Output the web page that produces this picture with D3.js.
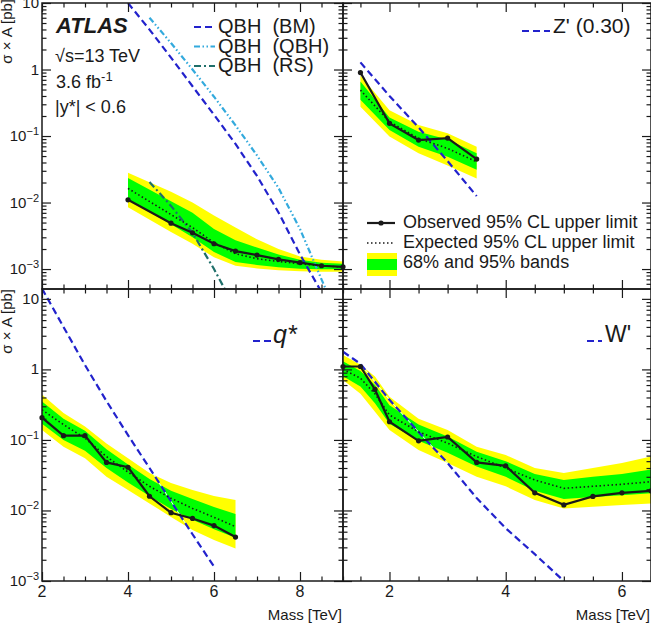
<!DOCTYPE html>
<html>
<head>
<meta charset="utf-8">
<script src="https://cdn.jsdelivr.net/npm/d3@7"></script>
<style>
    body { margin: 0; background: #fff; }
    svg { display: block; font-family: "Liberation Sans", Arial, Helvetica, sans-serif; }
</style>
</head>
<body>
<svg id="chart" width="651" height="627"></svg>
<script>
"use strict";

// ---- QBH panel (top left)
var qbhMass = [4, 5, 5.5, 6, 6.5, 7, 7.5, 8, 8.5, 9];
var qbhObserved = [0.011, 0.0049, 0.0035, 0.0024, 0.00186, 0.00162, 0.0014, 0.00125, 0.00112, 0.00108];
var qbhExpected = [0.0163, 0.0066, 0.0042, 0.0025, 0.0017, 0.00143, 0.0013, 0.0012, 0.00112, 0.00107];
var qbhBand95Hi = [0.028, 0.0145, 0.0100, 0.0064, 0.0042, 0.0028, 0.0020, 0.00155, 0.00138, 0.0013];
var qbhBand68Hi = [0.0233, 0.0105, 0.0070, 0.0040, 0.0027, 0.0021, 0.00165, 0.00138, 0.00124, 0.0012];
var qbhBand68Lo = [0.0110, 0.0047, 0.0030, 0.0018, 0.00128, 0.00115, 0.00106, 0.00101, 0.00099, 0.00099];
var qbhBand95Lo = [0.0085, 0.0036, 0.0024, 0.0015, 0.00112, 0.00102, 0.00096, 0.00093, 0.00091, 0.00091];

var bmMass = [4, 4.5, 5, 5.5, 6, 6.5, 7, 7.5, 8, 8.5];
var bmTheory = [10, 3.98, 1.51, 0.56, 0.209, 0.076, 0.0251, 0.0071, 0.00166, 0.00045];
var qbhQbhMass = [4.5, 5, 5.5, 6, 6.5, 7, 7.5, 8, 8.5, 9];
var qbhQbhTheory = [6.0, 2.5, 1.0, 0.39, 0.145, 0.051, 0.0166, 0.004, 0.0007, 0.000126];
var rsMass = [4.5, 5, 5.5, 6, 6.5];
var rsTheory = [0.0204, 0.0089, 0.0035, 0.001, 0.00025];

// ---- Z' panel (top right)
var zpMass = [1.5, 2, 2.5, 3, 3.5];
var zpObserved = [0.90, 0.155, 0.087, 0.093, 0.045];
var zpExpected = [0.49, 0.164, 0.092, 0.065, 0.041];
var zpBand95Hi = [0.81, 0.245, 0.147, 0.11, 0.069];
var zpBand68Hi = [0.66, 0.19, 0.116, 0.089, 0.055];
var zpBand68Lo = [0.35, 0.123, 0.069, 0.049, 0.031];
var zpBand95Lo = [0.275, 0.098, 0.055, 0.036, 0.023];
var zpTheory = [1.28, 0.40, 0.135, 0.042, 0.0125];

// ---- q* panel (bottom left)
var qsMass = [2, 2.5, 3, 3.5, 4, 4.5, 5, 5.5, 6, 6.5];
var qsObserved = [0.207, 0.115, 0.115, 0.048, 0.041, 0.0159, 0.0093, 0.0077, 0.0061, 0.0042];
var qsExpected = [0.267, 0.165, 0.106, 0.058, 0.035, 0.022, 0.0149, 0.0107, 0.0080, 0.0059];
var qsBand95Hi = [0.44, 0.24, 0.155, 0.089, 0.055, 0.034, 0.0245, 0.0195, 0.016, 0.0141];
var qsBand68Hi = [0.35, 0.20, 0.135, 0.074, 0.045, 0.028, 0.019, 0.0145, 0.0112, 0.0089];
var qsBand68Lo = [0.17, 0.10, 0.07, 0.040, 0.025, 0.016, 0.0105, 0.0074, 0.0054, 0.0041];
var qsBand95Lo = [0.138, 0.080, 0.055, 0.030, 0.0195, 0.0126, 0.0081, 0.0053, 0.0038, 0.0029];
var qsTheoryMass = [2, 2.5, 3, 3.5, 4, 4.5, 5, 5.5, 6];
var qsTheory = [14, 4.0, 1.15, 0.355, 0.117, 0.040, 0.0135, 0.0046, 0.0016];

// ---- W' panel (bottom right)
var wpMass = [1.2, 1.5, 1.75, 2, 2.5, 3, 3.5, 4, 4.5, 5, 5.5, 6, 6.5];
var wpObserved = [1.10, 1.10, 0.52, 0.181, 0.097, 0.110, 0.048, 0.043, 0.0178, 0.0120, 0.0158, 0.0178, 0.0190];
var wpExpected = [1.0, 0.75, 0.45, 0.226, 0.13, 0.090, 0.058, 0.040, 0.027, 0.0206, 0.022, 0.0235, 0.0256];
var wpBand95Hi = [1.6, 1.16, 0.79, 0.41, 0.20, 0.138, 0.080, 0.061, 0.040, 0.034, 0.040, 0.047, 0.058];
var wpBand68Hi = [1.3, 0.95, 0.60, 0.31, 0.165, 0.112, 0.068, 0.050, 0.033, 0.027, 0.030, 0.033, 0.038];
var wpBand68Lo = [0.80, 0.57, 0.33, 0.17, 0.097, 0.066, 0.042, 0.030, 0.019, 0.0145, 0.0155, 0.0165, 0.0175];
var wpBand95Lo = [0.71, 0.45, 0.25, 0.138, 0.072, 0.047, 0.030, 0.022, 0.0141, 0.0107, 0.0113, 0.012, 0.0126];
var wpTheoryMass = [1.2, 1.5, 2, 2.5, 3, 3.5, 4, 4.5, 5];
var wpTheory = [1.78, 1.2, 0.37, 0.13, 0.047, 0.015, 0.0056, 0.0024, 0.001];

// ---- axis ticks
var leftMassTicks = [2, 4, 6, 8];
var rightMassTicks = [2, 4, 6];

var BLUE = '#2222cc';
var SKY = '#33aadd';
var TEAL = '#1f6f6a';
var INK = '#1a1a1a';

var svg = d3.select('#chart');

function zip(mass, values) {
    return mass.map(function(m, i) { return { m: m, v: values[i] }; });
}

function bandRows(mass, lo, hi) {
    return mass.map(function(m, i) { return { m: m, lo: lo[i], hi: hi[i] }; });
}

var panels = [
    {
        id: 'tl', left: 42, right: 343, top: 3, bottom: 289,
        xDomain: [2, 9], yDomain: [Math.pow(10, -3.3), 10],
        mass: qbhMass, observed: qbhObserved, expected: qbhExpected,
        b95: [qbhBand95Lo, qbhBand95Hi], b68: [qbhBand68Lo, qbhBand68Hi],
        theory: [
            { mass: bmMass, values: bmTheory, color: BLUE, dash: '7,4' },
            { mass: qbhQbhMass, values: qbhQbhTheory, color: SKY, dash: '6,2.5,1.5,2.5,1.5,2.5' },
            { mass: rsMass, values: rsTheory, color: TEAL, dash: '7,3,2,3' }
        ],
        xTicks: leftMassTicks, xMinorFrom: 2, xLabels: false, yLabels: true
    },
    {
        id: 'tr', left: 343, right: 651, top: 3, bottom: 289,
        xDomain: [1.2, 6.5], yDomain: [Math.pow(10, -3.3), 10],
        mass: zpMass, observed: zpObserved, expected: zpExpected,
        b95: [zpBand95Lo, zpBand95Hi], b68: [zpBand68Lo, zpBand68Hi],
        theory: [{ mass: zpMass, values: zpTheory, color: BLUE, dash: '7,4' }],
        xTicks: rightMassTicks, xMinorFrom: 1.5, xLabels: false, yLabels: false
    },
    {
        id: 'bl', left: 42, right: 343, top: 289, bottom: 581,
        xDomain: [2, 9], yDomain: [1e-3, 13.8],
        mass: qsMass, observed: qsObserved, expected: qsExpected,
        b95: [qsBand95Lo, qsBand95Hi], b68: [qsBand68Lo, qsBand68Hi],
        theory: [{ mass: qsTheoryMass, values: qsTheory, color: BLUE, dash: '7,4', halo: true }],
        xTicks: leftMassTicks, xMinorFrom: 2, xLabels: true, yLabels: true
    },
    {
        id: 'br', left: 343, right: 651, top: 289, bottom: 581,
        xDomain: [1.2, 6.5], yDomain: [1e-3, 13.8],
        mass: wpMass, observed: wpObserved, expected: wpExpected,
        b95: [wpBand95Lo, wpBand95Hi], b68: [wpBand68Lo, wpBand68Hi],
        theory: [{ mass: wpTheoryMass, values: wpTheory, color: BLUE, dash: '7,4', halo: true }],
        xTicks: rightMassTicks, xMinorFrom: 1.5, xLabels: true, yLabels: false
    }
];

/**
 * minor tick positions for a log axis (2..9 x each decade inside the domain)
 */
function logMinor(domain) {
    var out = [];
    for (var d = -4; d <= 1; d++) {
        for (var k = 2; k <= 9; k++) {
            var v = k * Math.pow(10, d);
            if (v > domain[0] && v < domain[1]) { out.push(v); }
        }
    }
    return out;
}

function logMajor(domain) {
    var out = [];
    for (var d = -4; d <= 1; d++) {
        var v = Math.pow(10, d);
        if (v >= domain[0] * 0.999 && v <= domain[1] * 1.001) { out.push(v); }
    }
    return out;
}

function tickGroup(g, axis, tx, ty) {
    g.append('g')
        .attr('transform', 'translate(' + tx + ',' + ty + ')')
        .call(axis.tickFormat(''))
        .call(function(s) {
            s.select('.domain').remove();
            s.selectAll('line').attr('stroke', INK).attr('stroke-width', 1.2);
        });
}

function drawPanel(p) {

    var x = d3.scaleLinear().domain(p.xDomain).range([p.left, p.right]);
    var y = d3.scaleLog().domain(p.yDomain).range([p.bottom, p.top]);

    var g = svg.append('g').attr('class', 'panel panel--' + p.id);

    g.append('clipPath').attr('id', 'clip-' + p.id)
        .append('rect')
        .attr('x', p.left).attr('y', p.top)
        .attr('width', p.right - p.left).attr('height', p.bottom - p.top);

    var body = g.append('g').attr('clip-path', 'url(#clip-' + p.id + ')');

    var area = d3.area()
        .x(function(d) { return x(d.m); })
        .y0(function(d) { return y(d.lo); })
        .y1(function(d) { return y(d.hi); });

    body.append('path')
        .datum(bandRows(p.mass, p.b95[0], p.b95[1]))
        .attr('d', area)
        .attr('fill', '#ffff00');

    body.append('path')
        .datum(bandRows(p.mass, p.b68[0], p.b68[1]))
        .attr('d', area)
        .attr('fill', '#00ff00');

    var line = d3.line()
        .x(function(d) { return x(d.m); })
        .y(function(d) { return y(d.v); });

    p.theory.forEach(function(t) {
        if (t.halo) {
            body.append('path')
                .datum(zip(t.mass, t.values))
                .attr('d', line)
                .attr('fill', 'none')
                .attr('stroke', '#dcffff')
                .attr('stroke-width', 1);
        }
        body.append('path')
            .datum(zip(t.mass, t.values))
            .attr('d', line)
            .attr('fill', 'none')
            .attr('stroke', t.color)
            .attr('stroke-width', 2.2)
            .attr('stroke-dasharray', t.dash);
    });

    body.append('path')
        .datum(zip(p.mass, p.expected))
        .attr('d', line)
        .attr('fill', 'none')
        .attr('stroke', INK)
        .attr('stroke-width', 1.6)
        .attr('stroke-dasharray', '1.5,2.5');

    g.append('path')
        .datum(zip(p.mass, p.observed))
        .attr('d', line)
        .attr('fill', 'none')
        .attr('stroke', INK)
        .attr('stroke-width', 2.2);

    g.selectAll('circle.obs')
        .data(zip(p.mass, p.observed))
        .enter()
        .append('circle')
        .attr('class', 'obs')
        .attr('cx', function(d) { return x(d.m); })
        .attr('cy', function(d) { return y(d.v); })
        .attr('r', 2.6)
        .attr('fill', INK);

    // ticks on all four sides, pointing inwards
    var xMinor = d3.range(p.xMinorFrom, p.xDomain[1] + 0.01, 0.5).filter(function(v) {
        return p.xTicks.indexOf(v) < 0;
    });
    var yMajor = logMajor(p.yDomain);
    var yMinor = logMinor(p.yDomain);

    tickGroup(g, d3.axisTop(x).tickValues(p.xTicks).tickSize(9), 0, p.bottom);
    tickGroup(g, d3.axisTop(x).tickValues(xMinor).tickSize(4.5), 0, p.bottom);
    tickGroup(g, d3.axisBottom(x).tickValues(p.xTicks).tickSize(9), 0, p.top);
    tickGroup(g, d3.axisBottom(x).tickValues(xMinor).tickSize(4.5), 0, p.top);
    tickGroup(g, d3.axisRight(y).tickValues(yMajor).tickSize(9), p.left, 0);
    tickGroup(g, d3.axisRight(y).tickValues(yMinor).tickSize(4.5), p.left, 0);
    tickGroup(g, d3.axisLeft(y).tickValues(yMajor).tickSize(9), p.right, 0);
    tickGroup(g, d3.axisLeft(y).tickValues(yMinor).tickSize(4.5), p.right, 0);

    g.append('rect')
        .attr('x', p.left).attr('y', p.top)
        .attr('width', p.right - p.left).attr('height', p.bottom - p.top)
        .attr('fill', 'none')
        .attr('stroke', INK)
        .attr('stroke-width', 1.5);

    if (p.yLabels) {
        yMajor.forEach(function(v) {
            var e = Math.round(Math.log10(v));
            var t = g.append('text')
                .attr('x', p.left - 3)
                .attr('y', y(v) + 5)
                .attr('text-anchor', 'end')
                .attr('font-size', 15)
                .attr('fill', INK);
            if (e === 0) {
                t.text('1');
            } else if (e === 1) {
                t.text('10');
            } else {
                t.append('tspan').text('10');
                t.append('tspan').attr('dy', -6).attr('font-size', 11).text('\u2212' + (-e));
            }
        });
    }

    if (p.xLabels) {
        p.xTicks.forEach(function(v) {
            g.append('text')
                .attr('x', x(v))
                .attr('y', p.bottom + 16)
                .attr('text-anchor', 'middle')
                .attr('font-size', 16)
                .attr('fill', INK)
                .text(v);
        });
        g.append('text')
            .attr('x', p.right - 1)
            .attr('y', 620)
            .attr('text-anchor', 'end')
            .attr('font-size', 15)
            .attr('fill', INK)
            .text('Mass [TeV]');
    }
}

panels.forEach(drawPanel);

// y axis titles
[{ y: -1 }, { y: 289 }].forEach(function(d) {
    svg.append('text')
        .attr('transform', 'translate(12,' + d.y + ') rotate(-90)')
        .attr('text-anchor', 'end')
        .attr('font-size', 15)
        .attr('fill', INK)
        .text('\u03c3 \u00d7 A [pb]');
});

// ---- top left annotations
svg.append('text')
    .attr('x', 56).attr('y', 33)
    .attr('font-size', 22).attr('font-weight', 'bold').attr('font-style', 'italic')
    .attr('fill', INK)
    .text('ATLAS');

svg.append('text')
    .attr('x', 55).attr('y', 62).attr('font-size', 18).attr('fill', INK)
    .text('\u221as=13 TeV');

var lumi = svg.append('text').attr('x', 56).attr('y', 88).attr('font-size', 18).attr('fill', INK);
lumi.append('tspan').text('3.6 fb');
lumi.append('tspan').attr('dy', -7).attr('font-size', 13).text('-1');

svg.append('text')
    .attr('x', 55).attr('y', 113).attr('font-size', 18).attr('fill', INK)
    .text('|y*| < 0.6');

// ---- theory legends
function sample(x1, x2, yy, color, dash) {
    svg.append('line')
        .attr('x1', x1).attr('x2', x2).attr('y1', yy).attr('y2', yy)
        .attr('stroke', color).attr('stroke-width', 2.2)
        .attr('stroke-dasharray', dash);
}

function label(xx, yy, size, txt, italic) {
    svg.append('text')
        .attr('x', xx).attr('y', yy)
        .attr('font-size', size)
        .attr('font-style', italic ? 'italic' : null)
        .attr('fill', INK)
        .style('white-space', 'pre')
        .text(txt);
}

var qbhLegend = [
    { name: 'QBH  (BM)', color: BLUE, dash: '7,4' },
    { name: 'QBH  (QBH)', color: SKY, dash: '6,2.5,1.5,2.5,1.5,2.5' },
    { name: 'QBH  (RS)', color: TEAL, dash: '7,3,2,3' }
];
qbhLegend.forEach(function(d, i) {
    var base = 33 + i * 19.5;
    sample(194, 215, base - 6, d.color, d.dash);
    label(218, base, 20, d.name);
});

sample(522, 550, 31, BLUE, '7,4');
label(553, 33, 21, "Z' (0.30)");

sample(253, 272, 341, BLUE, '7,4');
label(273, 343, 25, 'q*', true);

sample(587, 602, 341, BLUE, '7,4');
label(605, 342, 23, "W'");

// ---- limit legend (top right)
svg.append('line')
    .attr('x1', 367).attr('x2', 395).attr('y1', 223).attr('y2', 223)
    .attr('stroke', INK).attr('stroke-width', 2.2);
svg.append('circle').attr('cx', 381).attr('cy', 223).attr('r', 2.6).attr('fill', INK);
label(403, 228, 18, 'Observed 95% CL upper limit');

svg.append('line')
    .attr('x1', 367).attr('x2', 395).attr('y1', 243).attr('y2', 243)
    .attr('stroke', INK).attr('stroke-width', 1.6).attr('stroke-dasharray', '1.5,2.5');
label(403, 248, 18, 'Expected 95% CL upper limit');

svg.append('rect').attr('x', 367).attr('y', 253).attr('width', 30).attr('height', 23).attr('fill', '#ffff00');
svg.append('rect').attr('x', 367).attr('y', 259).attr('width', 30).attr('height', 11).attr('fill', '#00ff00');
label(403, 268, 18, '68% and 95% bands');
</script>
</body>
</html>
